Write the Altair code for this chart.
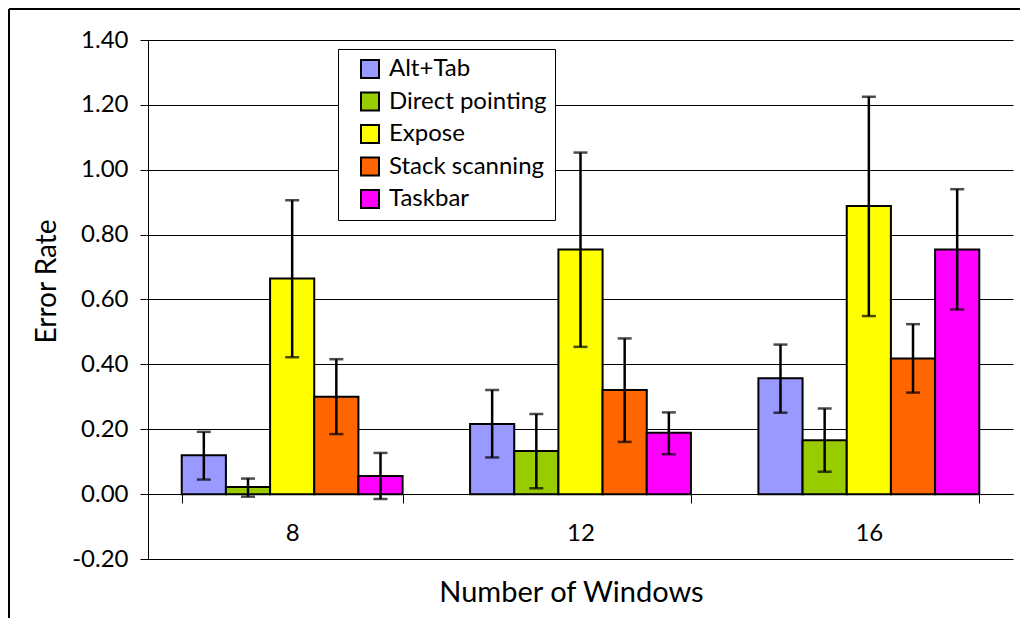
import altair as alt
import pandas as pd

groups = ["8", "12", "16"]
series = ["Alt+Tab", "Direct pointing", "Expose", "Stack scanning", "Taskbar"]
colors = ["#9999FF", "#99CC00", "#FFFF00", "#FF6600", "#FF00FF"]

# mean error rate per technique for 8, 12, 16 windows
alt_tab = [0.120, 0.216, 0.357]
direct_pointing = [0.022, 0.133, 0.166]
expose = [0.665, 0.754, 0.888]
stack_scanning = [0.300, 0.321, 0.418]
taskbar = [0.056, 0.189, 0.754]

# error bar lower ends
alt_tab_lo = [0.045, 0.113, 0.251]
direct_pointing_lo = [-0.008, 0.018, 0.069]
expose_lo = [0.422, 0.454, 0.549]
stack_scanning_lo = [0.185, 0.161, 0.313]
taskbar_lo = [-0.015, 0.123, 0.569]

# error bar upper ends
alt_tab_hi = [0.192, 0.321, 0.461]
direct_pointing_hi = [0.048, 0.247, 0.264]
expose_hi = [0.906, 1.053, 1.225]
stack_scanning_hi = [0.416, 0.480, 0.524]
taskbar_hi = [0.127, 0.252, 0.940]

y_ticks = [-0.2, 0.0, 0.2, 0.4, 0.6, 0.8, 1.0, 1.2, 1.4]

means = [alt_tab, direct_pointing, expose, stack_scanning, taskbar]
lows = [alt_tab_lo, direct_pointing_lo, expose_lo, stack_scanning_lo, taskbar_lo]
highs = [alt_tab_hi, direct_pointing_hi, expose_hi, stack_scanning_hi, taskbar_hi]

rows = []
for s, m, lo, hi in zip(series, means, lows, highs):
    for i, g in enumerate(groups):
        rows.append({"windows": g, "technique": s, "rate": m[i], "lo": lo[i], "hi": hi[i]})
df = pd.DataFrame(rows)

FONT = "Lato"

x_axis = alt.Axis(
    title="Number of Windows", orient="bottom", offset=-65,
    domainColor="black", domainWidth=1,
    tickBand="extent", tickSize=9, tickColor="black", tickWidth=1,
    labelAngle=0, labelFontSize=24, labelPadding=18, labelColor="black",
    titleFontSize=29, titleFontWeight="normal", titleColor="black",
    titleX=423, titleY=98, titleBaseline="middle", titleAlign="center",
)
y_axis = alt.Axis(
    values=y_ticks, labelExpr="replace(format(datum.value, '.2f'), '\u2212', '-')",
    grid=True, gridColor="black", gridWidth=1,
    domainColor="black", domainWidth=1,
    tickColor="black", tickSize=8, tickWidth=1,
    labelFontSize=24, labelPadding=12, labelColor="black",
    title="Error Rate", titleFontSize=28, titleFontWeight="normal", titleColor="black",
    titleX=-101, titleY=241, titleAngle=-90, titleBaseline="middle", titleAlign="center",
)

x_enc = alt.X("windows:N", sort=groups,
              scale=alt.Scale(paddingInner=0.234, paddingOuter=0.117), axis=x_axis)
xo_enc = alt.XOffset("technique:N", sort=series,
                     scale=alt.Scale(paddingInner=0, paddingOuter=0))
y_scale = alt.Scale(domain=[-0.2, 1.4], nice=False, zero=False)

base = alt.Chart(df)

bars = base.mark_bar(stroke="black", strokeWidth=2).encode(
    x=x_enc, xOffset=xo_enc,
    y=alt.Y("rate:Q", scale=y_scale, axis=y_axis),
    color=alt.Color(
        "technique:N", sort=series,
        scale=alt.Scale(domain=series, range=colors),
        legend=alt.Legend(
            title=None, orient="none", legendX=190, legendY=9,
            symbolType="square", symbolSize=324,
            symbolStrokeColor="black", symbolStrokeWidth=2,
            labelFontSize=24, labelColor="black", labelLimit=400,
            rowPadding=6.5, padding=8, symbolOffset=12, labelOffset=7,
            strokeColor="black", fillColor="white",
        ),
    ),
)

err = base.mark_rule(color="black", strokeWidth=2.5).encode(
    x=x_enc, xOffset=xo_enc,
    y=alt.Y("lo:Q", scale=y_scale, axis=y_axis), y2="hi:Q",
)
cap_lo = base.mark_tick(color="black", thickness=2.5, size=14).encode(
    x=x_enc, xOffset=xo_enc, y=alt.Y("lo:Q", scale=y_scale, axis=y_axis),
)
cap_hi = base.mark_tick(color="black", thickness=2.5, size=14).encode(
    x=x_enc, xOffset=xo_enc, y=alt.Y("hi:Q", scale=y_scale, axis=y_axis),
)

frame_df = pd.DataFrame({"d": [0]})
frame_left = alt.Chart(frame_df).mark_rule(color="black", strokeWidth=2).encode(
    x=alt.value(-139), y=alt.value(-31), y2=alt.value(578)
)
frame_top = alt.Chart(frame_df).mark_rule(color="black", strokeWidth=2).encode(
    x=alt.value(-139), x2=alt.value(872), y=alt.value(-31)
)

chart = alt.layer(bars, err, cap_lo, cap_hi, frame_left, frame_top).properties(
    width=865, height=519,
    autosize=alt.AutoSizeParams(type="none"),
    padding={"left": 140, "top": 32, "right": 7, "bottom": 59},
).configure(font=FONT).configure_view(stroke=None)

chart.save("out.html", embed_options={"renderer": "svg", "actions": False})
